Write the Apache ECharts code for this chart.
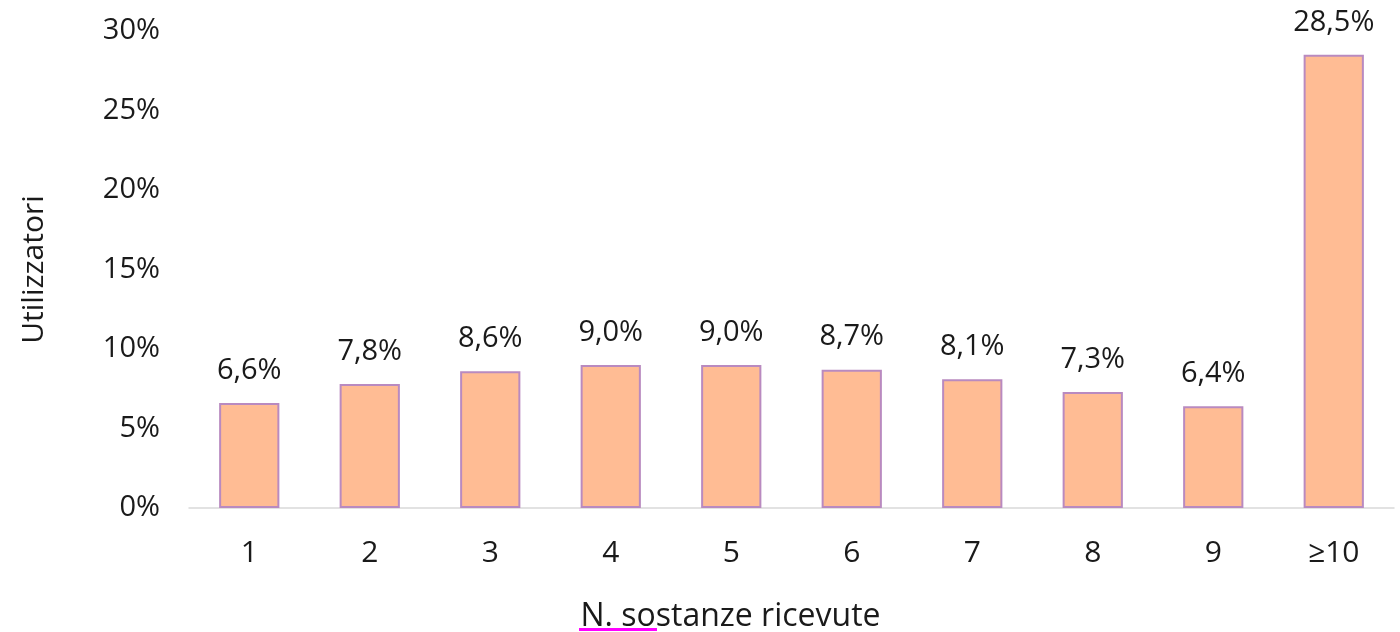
<!DOCTYPE html>
<html>
<head>
<meta charset="utf-8">
<script src="https://cdn.jsdelivr.net/npm/echarts@6/dist/echarts.min.js"></script>
<style>
  html, body { margin: 0; padding: 0; background: #ffffff; }
  #chart { width: 1400px; height: 632px; }
</style>
</head>
<body>
<div id="chart"></div>
<script>
// Share of users by number of substances received
const categories = ['1', '2', '3', '4', '5', '6', '7', '8', '9', '≥10'];
const userShare = [6.6, 7.8, 8.6, 9.0, 9.0, 8.7, 8.1, 7.3, 6.4, 28.5];
const yTicks = [0, 5, 10, 15, 20, 25, 30];

const textColor = '#1a1a1a';
const fontFamily = '"Open Sans", "Liberation Sans", sans-serif';

const chart = echarts.init(document.getElementById('chart'), null, { renderer: 'canvas' });

const fmtPct = v => v.toFixed(1).replace('.', ',') + '%';

chart.setOption({
  animation: false,
  backgroundColor: '#ffffff',
  grid: { left: 189, right: 6, top: 31, bottom: 124, containLabel: false, outerBoundsMode: 'none' },
  xAxis: {
    type: 'category',
    data: categories,
    axisLine: { show: true, lineStyle: { color: '#d9d9d9', width: 1.5 } },
    axisTick: { show: false },
    axisLabel: { color: textColor, fontFamily, fontSize: 30, margin: 30 },
    name: 'N. sostanze ricevute',
    nameLocation: 'middle',
    nameGap: 93,
    nameTextStyle: { color: textColor, fontFamily, fontSize: 32, padding: [0, 122, 0, 0] }
  },
  yAxis: {
    type: 'value',
    min: yTicks[0],
    max: yTicks[yTicks.length - 1],
    interval: yTicks[1] - yTicks[0],
    splitLine: { show: false },
    axisLine: { show: false },
    axisTick: { show: false },
    axisLabel: { color: textColor, fontFamily, fontSize: 29, margin: 29, formatter: v => v + '%' },
    name: 'Utilizzatori',
    nameLocation: 'middle',
    nameGap: 140,
    nameRotate: 90,
    nameTextStyle: { color: textColor, fontFamily, fontSize: 30, padding: [0, 0, 0, 0] }
  },
  series: [{
    type: 'bar',
    data: userShare,
    barWidth: '50%',
    itemStyle: { color: '#ffbc94', borderColor: '#b98ac0', borderWidth: 2 },
    label: {
      show: true,
      position: 'top',
      distance: 18,
      color: textColor,
      fontFamily,
      fontSize: 29,
      formatter: p => fmtPct(p.value)
    }
  }],
  graphic: [{
    type: 'rect',
    shape: { x: 579, y: 628, width: 78, height: 3 },
    style: { fill: '#ff00ff' }
  }]
});
</script>
</body>
</html>
